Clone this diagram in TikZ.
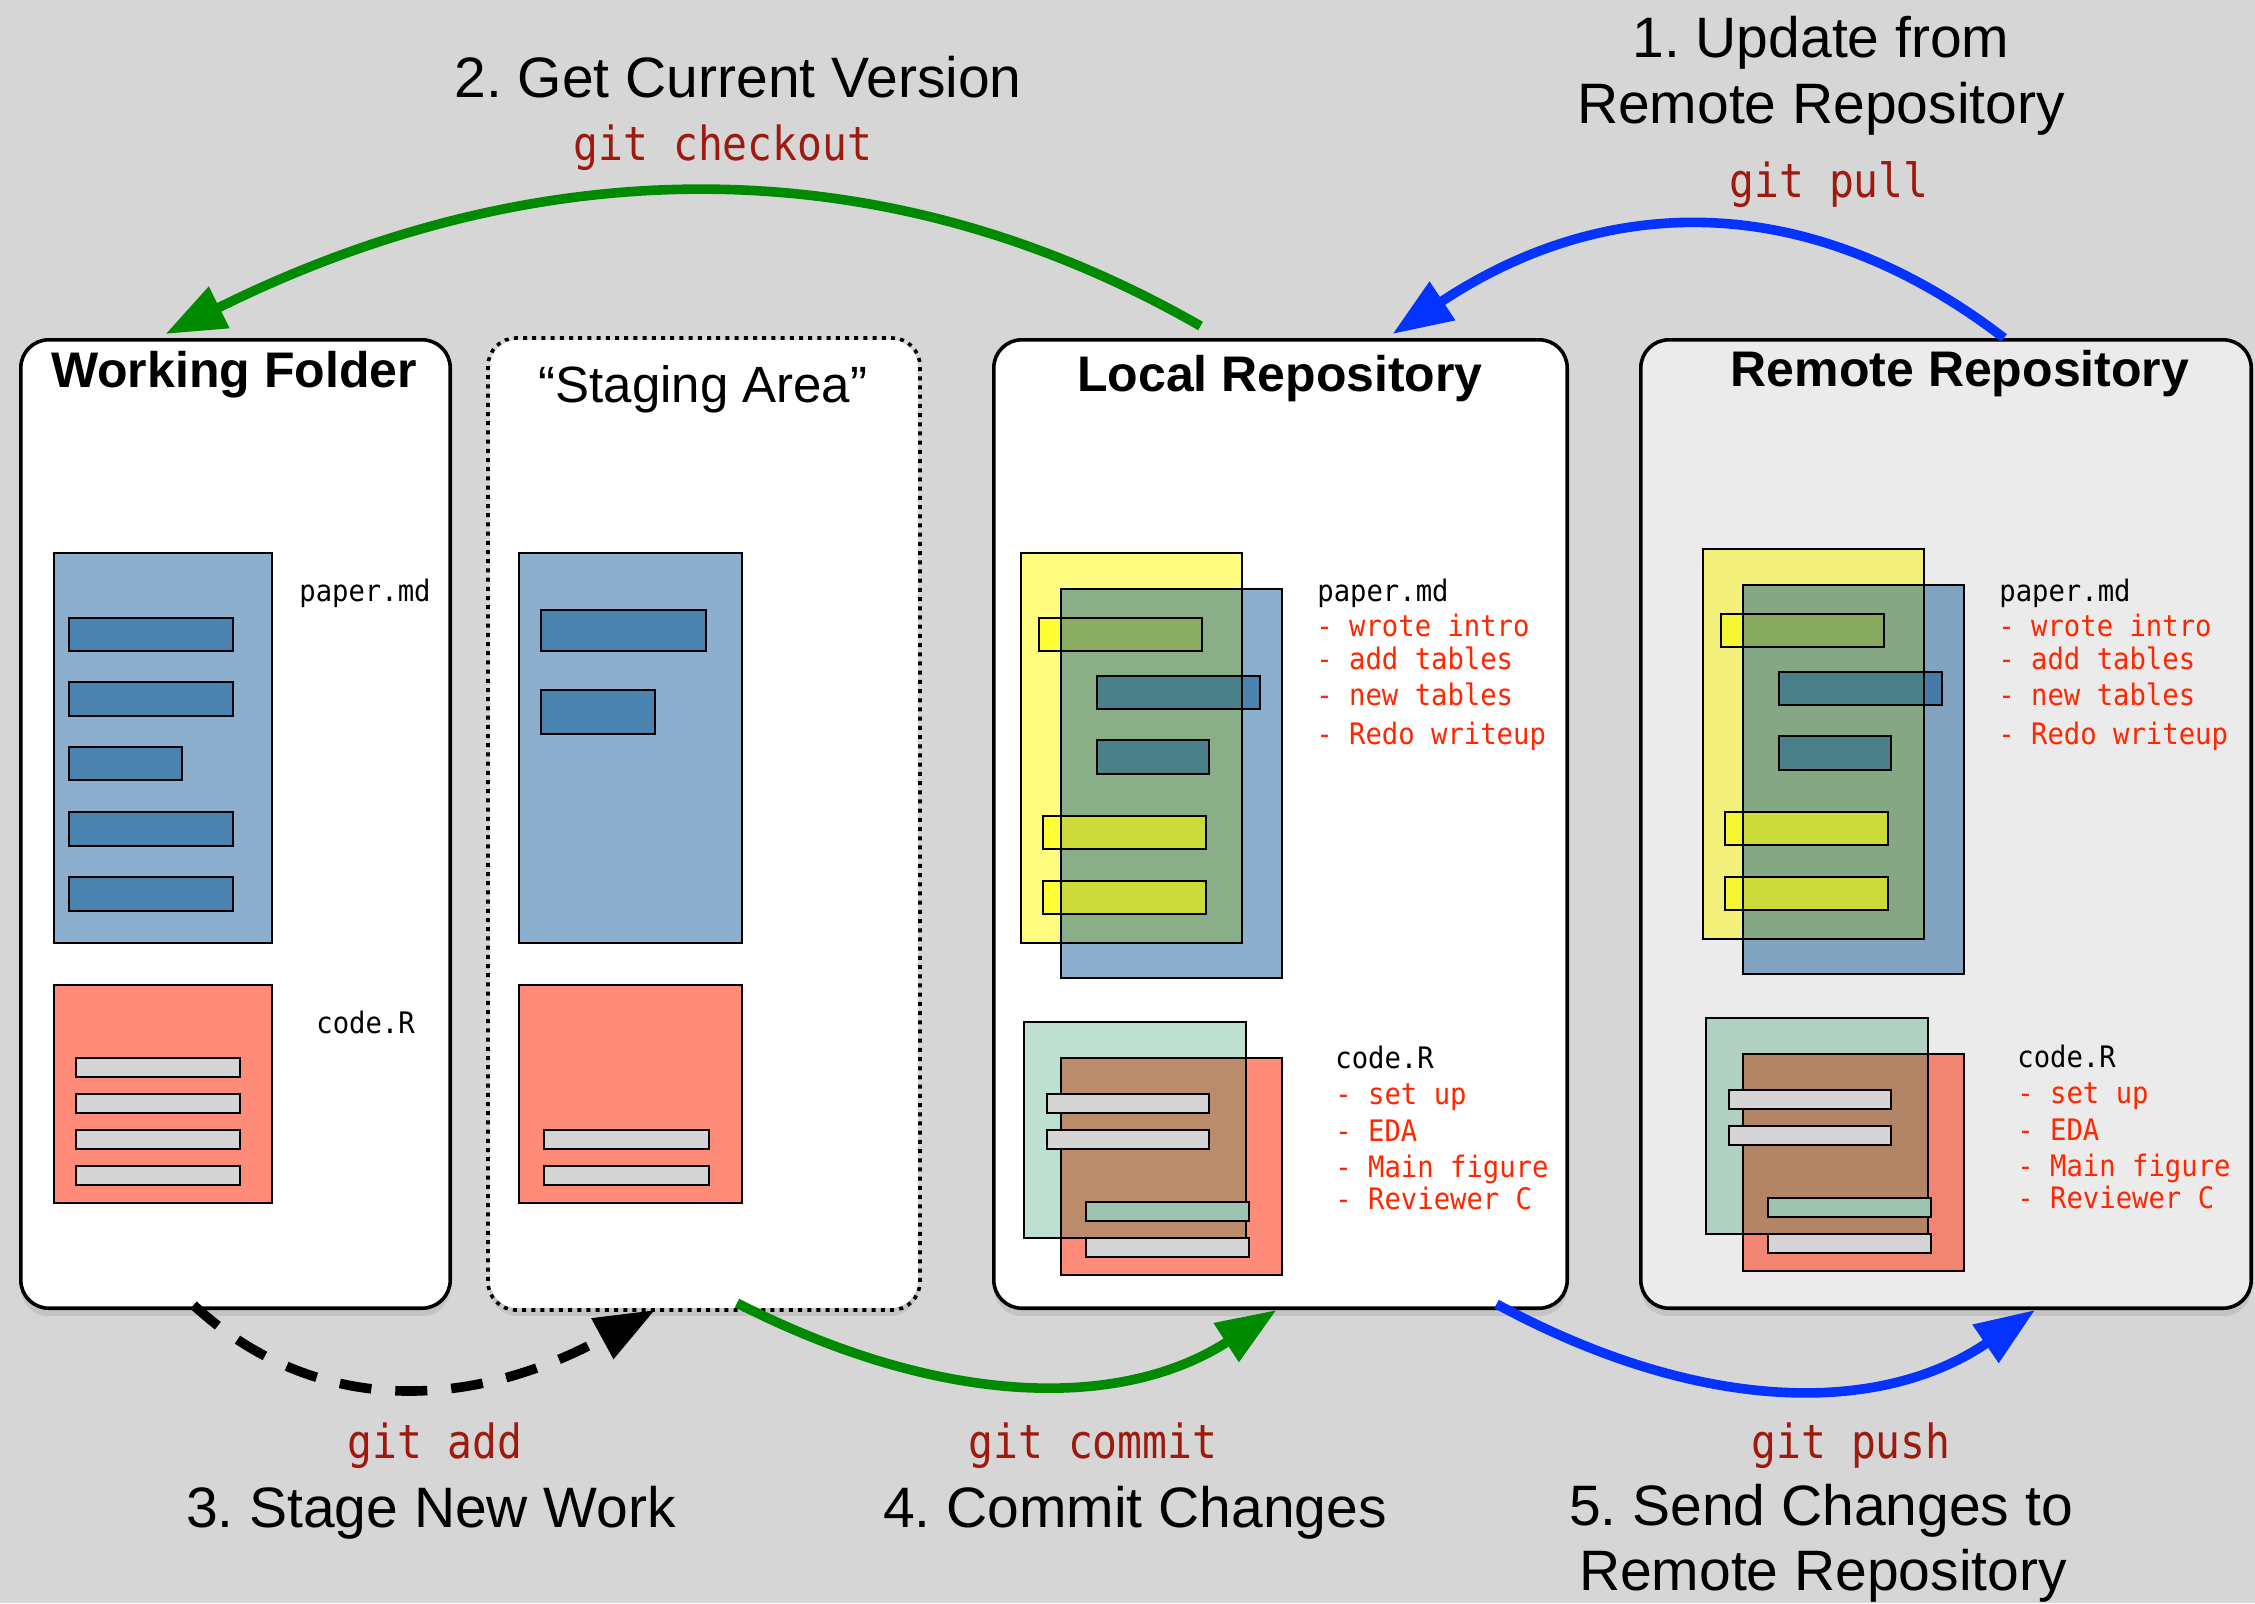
\documentclass[tikz,border=0pt]{standalone}
\usepackage{fontspec}
\setmainfont{Liberation Sans}
\newfontfamily\cmdfont{DejaVu Sans Mono}[FakeStretch=0.88]
\newfontfamily\filefont{DejaVu Sans Mono}[FakeStretch=0.92]
\usepackage{tikz}
\usetikzlibrary{arrows.meta,
                shadows}
\frenchspacing

\definecolor{bggray}{HTML}{D6D6D6}
\definecolor{remotegray}{HTML}{EBEBEB}
\definecolor{paperblue}{HTML}{8BAFCD}
\definecolor{linesblue}{HTML}{4A82B0}
\definecolor{codered}{HTML}{FF8C78}
\definecolor{linesgray}{HTML}{D5D5D5}
\definecolor{oldyellow}{HTML}{FFFC80}
\definecolor{brightyellow}{HTML}{FFFF33}
\definecolor{sage}{HTML}{8AAE88}
\definecolor{olive}{HTML}{8AAD62}
\definecolor{lime}{HTML}{CCDA3C}
\definecolor{tealbar}{HTML}{4A8189}
\definecolor{mint}{HTML}{BDE0D0}
\definecolor{brownish}{HTML}{BB8C6C}
\definecolor{mintbar}{HTML}{9CC4B0}
\definecolor{gitgreen}{HTML}{008A00}
\definecolor{gitblue}{HTML}{0433FF}
\definecolor{cmdred}{HTML}{9E1A0E}
\definecolor{notered}{HTML}{FF2600}

\begin{document}
\begin{tikzpicture}[x=0.5pt, y=-0.5pt]

\tikzstyle{folder}=[rectangle, draw, line width=1.8pt, rounded corners=14pt, fill=white, inner sep=0pt,
                    drop shadow={shadow xshift=0pt, shadow yshift=-4pt, opacity=0.2}]
\tikzstyle{foldertitle}=[anchor=base, inner sep=0pt, font=\fontsize{25pt}{30pt}\selectfont\bfseries]
\tikzstyle{steplabel}=[anchor=base, inner sep=0pt, font=\fontsize{28.5pt}{34pt}\selectfont]
\tikzstyle{gitcmd}=[anchor=base, inner sep=0pt, text=cmdred, font=\fontsize{23.5pt}{28pt}\cmdfont]
\tikzstyle{filename}=[anchor=base west, inner sep=0pt, font=\fontsize{14.8pt}{17pt}\filefont]
\tikzstyle{note}=[filename, text=notered]
\tikzstyle{sheet}=[draw=black, line width=1.4pt]
\tikzstyle{greenarc}=[-{Triangle[length=30pt,width=22pt]}, line width=4.8pt, gitgreen]
\tikzstyle{bluearc}=[-{Triangle[length=30pt,width=22pt]}, line width=4.8pt, gitblue]
\tikzstyle{addarc}=[-{Triangle[length=30pt,width=22pt]}, line width=4.8pt, dash pattern=on 16pt off 12pt, black]

\useasboundingbox (0,0) rectangle (2255,1603);
\fill[bggray] (0,0) rectangle (2255,1603);

% the four places
\node (wf) [folder, minimum width=214.7pt, minimum height=484.2pt] at (235.5,824) {};
\node (sa) [folder, draw=none, minimum width=214.2pt, minimum height=484.2pt] at (704,824) {};
\draw [line width=1.8pt, rounded corners=14pt, dash pattern=on 2pt off 2.6pt] (sa.north west) rectangle (sa.south east);
\node (lr) [folder, minimum width=286.7pt, minimum height=484.2pt] at (1280.5,824) {};
\node (rr) [folder, fill=remotegray, minimum width=305.2pt, minimum height=484.2pt] at (1946,824) {};

\node (wftitle) [foldertitle] at (234,387) {Working Folder};
\node (satitle) [foldertitle, font=\fontsize{25.5pt}{30pt}\selectfont] at (703,402) {“Staging Area”};
\node (lrtitle) [foldertitle] at (1280,391) {Local Repository};
\node (rrtitle) [foldertitle] at (1960,386) {Remote Repository};

% working folder
\filldraw[sheet, fill=paperblue] (54,553) rectangle (272,943);
\filldraw[sheet, fill=linesblue] (69,618) rectangle (233,651);
\filldraw[sheet, fill=linesblue] (69,682) rectangle (233,716);
\filldraw[sheet, fill=linesblue] (69,747) rectangle (182,780);
\filldraw[sheet, fill=linesblue] (69,812) rectangle (233,846);
\filldraw[sheet, fill=linesblue] (69,877) rectangle (233,911);
\filldraw[sheet, fill=codered] (54,985) rectangle (272,1203);
\filldraw[sheet, fill=linesgray] (76,1058) rectangle (240,1077);
\filldraw[sheet, fill=linesgray] (76,1094) rectangle (240,1113);
\filldraw[sheet, fill=linesgray] (76,1130) rectangle (240,1149);
\filldraw[sheet, fill=linesgray] (76,1166) rectangle (240,1185);
\node (wfpaper) [filename] at (299,601) {paper.md};
\node (wfcode) [filename] at (316,1033) {code.R};

% staging area
\filldraw[sheet, fill=paperblue] (519,553) rectangle (742,943);
\filldraw[sheet, fill=linesblue] (541,610) rectangle (706,651);
\filldraw[sheet, fill=linesblue] (541,690) rectangle (655,734);
\filldraw[sheet, fill=codered] (519,985) rectangle (742,1203);
\filldraw[sheet, fill=linesgray] (544,1130) rectangle (709,1149);
\filldraw[sheet, fill=linesgray] (544,1166) rectangle (709,1185);

% local repository
\fill[paperblue] (1061,589) rectangle (1282,978);
\fill[oldyellow] (1021,553) rectangle (1242,943);
\fill[sage] (1061,589) rectangle (1242,943);
\fill[brightyellow] (1039,618) rectangle (1202,651);
\fill[olive] (1061,618) rectangle (1202,651);
\fill[linesblue] (1097,676) rectangle (1260,709);
\fill[tealbar] (1097,676) rectangle (1242,709);
\fill[tealbar] (1097,740) rectangle (1209,774);
\fill[brightyellow] (1043,816) rectangle (1206,849);
\fill[lime] (1061,816) rectangle (1206,849);
\fill[brightyellow] (1043,881) rectangle (1206,914);
\fill[lime] (1061,881) rectangle (1206,914);
\draw[sheet] (1021,553) rectangle (1242,943);
\draw[sheet] (1061,589) rectangle (1282,978);
\draw[sheet] (1039,618) rectangle (1202,651);
\draw[sheet] (1097,676) rectangle (1260,709);
\draw[sheet] (1097,740) rectangle (1209,774);
\draw[sheet] (1043,816) rectangle (1206,849);
\draw[sheet] (1043,881) rectangle (1206,914);
\fill[codered] (1061,1058) rectangle (1282,1275);
\fill[mint] (1024,1022) rectangle (1246,1238);
\fill[brownish] (1061,1058) rectangle (1246,1238);
\draw[sheet] (1024,1022) rectangle (1246,1238);
\draw[sheet] (1061,1058) rectangle (1282,1275);
\filldraw[sheet, fill=linesgray] (1047,1094) rectangle (1209,1113);
\filldraw[sheet, fill=linesgray] (1047,1130) rectangle (1209,1149);
\filldraw[sheet, fill=mintbar] (1086,1202) rectangle (1249,1221);
\filldraw[sheet, fill=linesgray] (1086,1238) rectangle (1249,1257);
\node (lrpaper) [filename] at (1317,601) {paper.md};
\node (lrnote1) [note] at (1316,636) {- wrote intro};
\node (lrnote2) [note] at (1316,669) {- add tables};
\node (lrnote3) [note] at (1316,705) {- new tables};
\node (lrnote4) [note] at (1316,744) {- Redo writeup};
\node (lrcode) [filename] at (1335,1068) {code.R};
\node (lrnote5) [note] at (1335,1104) {- set up};
\node (lrnote6) [note] at (1335,1141) {- EDA};
\node (lrnote7) [note] at (1335,1177) {- Main figure};
\node (lrnote8) [note] at (1335,1209) {- Reviewer C};

% remote repository, same stack a bit darker
\begin{scope}[shift={(682,-4)}]
\colorlet{paperblue}{paperblue!93!black}
\colorlet{oldyellow}{oldyellow!95!black}
\colorlet{sage}{sage!96!black}
\colorlet{brightyellow}{brightyellow!96!black}
\colorlet{olive}{olive!97!black}
\colorlet{linesblue}{linesblue!95!black}
\colorlet{codered}{codered!95!black}
\colorlet{mint}{mint!93!black}
\colorlet{brownish}{brownish!95!black}
\fill[paperblue] (1061,589) rectangle (1282,978);
\fill[oldyellow] (1021,553) rectangle (1242,943);
\fill[sage] (1061,589) rectangle (1242,943);
\fill[brightyellow] (1039,618) rectangle (1202,651);
\fill[olive] (1061,618) rectangle (1202,651);
\fill[linesblue] (1097,676) rectangle (1260,709);
\fill[tealbar] (1097,676) rectangle (1242,709);
\fill[tealbar] (1097,740) rectangle (1209,774);
\fill[brightyellow] (1043,816) rectangle (1206,849);
\fill[lime] (1061,816) rectangle (1206,849);
\fill[brightyellow] (1043,881) rectangle (1206,914);
\fill[lime] (1061,881) rectangle (1206,914);
\draw[sheet] (1021,553) rectangle (1242,943);
\draw[sheet] (1061,589) rectangle (1282,978);
\draw[sheet] (1039,618) rectangle (1202,651);
\draw[sheet] (1097,676) rectangle (1260,709);
\draw[sheet] (1097,740) rectangle (1209,774);
\draw[sheet] (1043,816) rectangle (1206,849);
\draw[sheet] (1043,881) rectangle (1206,914);
\fill[codered] (1061,1058) rectangle (1282,1275);
\fill[mint] (1024,1022) rectangle (1246,1238);
\fill[brownish] (1061,1058) rectangle (1246,1238);
\draw[sheet] (1024,1022) rectangle (1246,1238);
\draw[sheet] (1061,1058) rectangle (1282,1275);
\filldraw[sheet, fill=linesgray] (1047,1094) rectangle (1209,1113);
\filldraw[sheet, fill=linesgray] (1047,1130) rectangle (1209,1149);
\filldraw[sheet, fill=mintbar] (1086,1202) rectangle (1249,1221);
\filldraw[sheet, fill=linesgray] (1086,1238) rectangle (1249,1257);
\node (rrpaper) [filename] at (1317,605) {paper.md};
\node (rrnote1) [note] at (1316,640) {- wrote intro};
\node (rrnote2) [note] at (1316,673) {- add tables};
\node (rrnote3) [note] at (1316,709) {- new tables};
\node (rrnote4) [note] at (1316,748) {- Redo writeup};
\node (rrcode) [filename] at (1335,1071) {code.R};
\node (rrnote5) [note] at (1335,1107) {- set up};
\node (rrnote6) [note] at (1335,1144) {- EDA};
\node (rrnote7) [note] at (1335,1180) {- Main figure};
\node (rrnote8) [note] at (1335,1212) {- Reviewer C};
\end{scope}

% steps and commands
\node (pullstep) [steplabel] at (1821,57) {1. Update from};
\node (pullstep2) [steplabel] at (1821,123) {Remote Repository};
\node (pullcmd) [gitcmd] at (1829,197) {git pull};
\node (checkoutstep) [steplabel] at (738,97) {2. Get Current Version};
\node (checkoutcmd) [gitcmd] at (723,160) {git checkout};
\node (addcmd) [gitcmd] at (435,1458) {git add};
\node (addstep) [steplabel] at (431,1527) {3. Stage New Work};
\node (commitcmd) [gitcmd] at (1093,1458) {git commit};
\node (commitstep) [steplabel] at (1135,1527) {4. Commit Changes};
\node (pushcmd) [gitcmd] at (1851,1458) {git push};
\node (pushstep) [steplabel] at (1821,1525) {5. Send Changes to};
\node (pushstep2) [steplabel] at (1823,1590) {Remote Repository};

% arcs
\draw [greenarc] ([xshift=-40pt,yshift=6pt]lr.north) .. controls (885,145) and (540,148) .. ([xshift=-35pt,yshift=2pt]wf.north);
\draw [bluearc] ([xshift=29pt,yshift=0pt]rr.north) .. controls (1814,192) and (1611,189) .. ([xshift=56pt,yshift=2pt]lr.north);
\draw [addarc] ([xshift=-21pt,yshift=2.5pt]wf.south) .. controls (310,1413) and (464,1414) .. ([xshift=-24.5pt]sa.south);
\draw [greenarc] ([xshift=16.5pt,yshift=3.5pt]sa.south) .. controls (943,1408) and (1122,1410) .. ([xshift=-2pt]lr.south);
\draw [bluearc] ([xshift=108pt,yshift=3pt]lr.south) .. controls (1700,1414) and (1880,1416) .. ([xshift=44.5pt]rr.south);

\end{tikzpicture}
\end{document}
